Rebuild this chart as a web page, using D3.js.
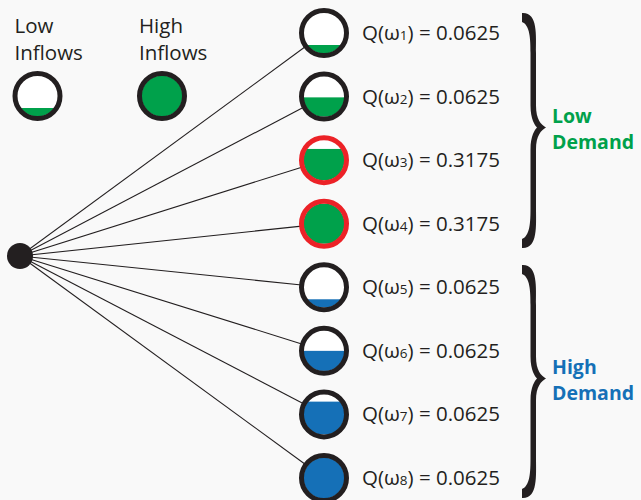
<!DOCTYPE html>
<html><head><meta charset="utf-8">
<script src="https://cdn.jsdelivr.net/npm/d3@7"></script>
<style>html,body{margin:0;padding:0;background:#f9f9f9;}svg{display:block;}</style>
</head><body>
<script>
const scenarios = ["1","2","3","4","5","6","7","8"];
const probabilities = ["0.0625","0.0625","0.3175","0.3175","0.0625","0.0625","0.0625","0.0625"];
const fillLevels = [0.2, 0.48, 0.78, 1.0, 0.2, 0.5, 0.82, 1.0];
const demandLevel = ["Low","Low","Low","Low","High","High","High","High"];
const highlighted = [false,false,true,true,false,false,false,false];
const legendLabels = [["Low","Inflows"],["High","Inflows"]];
const legendLevels = [0.2, 1.0];
const groupLabels = [["Low","Demand"],["High","Demand"]];

const W = 641, H = 500;
const colors = {Low:"#00a14b", High:"#1570b7"};
const FONT = "'Open Sans', sans-serif";
const FS = 20.5;
const svg = d3.select("body").append("svg").attr("width",W).attr("height",H);
svg.append("rect").attr("width",W).attr("height",H).attr("fill","#f9f9f9");

const y = d3.scalePoint().domain(scenarios).range([33, 478]);
const cx = 324, R = 22.5, SW = 5, rIn = R - SW/2;
const root = {x:20, y:256};
const lvl = d3.scaleLinear().domain([0,1]).range([rIn, -rIn]);

const defs = svg.append("defs");

// lines
svg.append("g").selectAll("line").data(scenarios).join("line")
  .attr("x1", root.x).attr("y1", root.y)
  .attr("x2", d => cx - R*Math.cos(Math.atan2(y(d)-root.y, cx-root.x)))
  .attr("y2", d => y(d) - R*Math.sin(Math.atan2(y(d)-root.y, cx-root.x)))
  .attr("stroke","#231f20").attr("stroke-width",1.1);

svg.append("circle").attr("cx",root.x).attr("cy",root.y).attr("r",13).attr("fill","#231f20");

function tank(g, x, yy, level, color, stroke, id){
  defs.append("clipPath").attr("id",id).append("circle").attr("cx",x).attr("cy",yy).attr("r",rIn+0.5);
  g.append("circle").attr("cx",x).attr("cy",yy).attr("r",rIn).attr("fill","#ffffff");
  g.append("rect").attr("clip-path",`url(#${id})`)
    .attr("x",x-R).attr("width",2*R)
    .attr("y",yy+lvl(level)).attr("height",Math.max(0, rIn - lvl(level)))
    .attr("fill",color);
  g.append("circle").attr("cx",x).attr("cy",yy).attr("r",R).attr("fill","none")
    .attr("stroke",stroke).attr("stroke-width",SW);
}

const nodes = svg.append("g");
scenarios.forEach((s,i)=>{
  tank(nodes, cx, y(s), fillLevels[i], colors[demandLevel[i]], highlighted[i] ? "#ec2227" : "#231f20", "c"+i);
  const t = nodes.append("text").attr("x",362).attr("y",y(s)+7)
    .attr("font-family",FONT).attr("font-size",FS).attr("fill","#231f20");
  t.append("tspan").text("Q(ω");
  t.append("tspan").attr("font-size",13.5).text(s);
  t.append("tspan").text(") = " + probabilities[i]);
});

// legend
const legX = [37.5, 162];
legendLabels.forEach((lab,i)=>{
  const t = svg.append("text").attr("font-family",FONT).attr("font-size",FS).attr("fill","#231f20");
  t.append("tspan").attr("x",legX[i]-23).attr("y",33).text(lab[0]);
  t.append("tspan").attr("x",legX[i]-23).attr("y",60).text(lab[1]);
  tank(svg, legX[i], 96, legendLevels[i], colors.Low, "#231f20", "l"+i);
});

// braces
function brace(yTop, yBot){
  const xL = 522, xV = 533, xT = 546, yMid = (yTop+yBot)/2 - 3;
  const p = d3.path();
  p.moveTo(xL, yTop);
  p.bezierCurveTo(xV+5, yTop-1, xV+3, yTop+22, xV+3, yTop+40);
  p.lineTo(xV+3, yMid-22);
  p.bezierCurveTo(xV+3, yMid-8, xT-5, yMid-3, xT, yMid);
  p.bezierCurveTo(xT-5, yMid+3, xV+3, yMid+8, xV+3, yMid+22);
  p.lineTo(xV+3, yBot-40);
  p.bezierCurveTo(xV+3, yBot-22, xV+5, yBot+1, xL, yBot);
  p.lineTo(xL, yBot-9);
  p.bezierCurveTo(xV-3, yBot-12, xV-2.5, yBot-26, xV-2.5, yBot-40);
  p.lineTo(xV-2.5, yMid+22);
  p.bezierCurveTo(xV-2.5, yMid+8, xV+2, yMid+2, xT-9, yMid);
  p.bezierCurveTo(xV+2, yMid-2, xV-2.5, yMid-8, xV-2.5, yMid-22);
  p.lineTo(xV-2.5, yTop+40);
  p.bezierCurveTo(xV-2.5, yTop+26, xV-3, yTop+12, xL, yTop+9);
  p.closePath();
  svg.append("path").attr("d",p.toString()).attr("fill","#231f20");
  return yMid;
}
const braceSpans = [[13,248],[265,498]];
braceSpans.forEach((sp,i)=>{
  const ym = brace(sp[0], sp[1]);
  const col = i===0 ? colors.Low : colors.High;
  [0,1].forEach(k=>{
    svg.append("text").attr("font-family",FONT).attr("font-size",19.5)
      .attr("font-weight","bold").attr("fill",col)
      .attr("x",552).attr("y", k===0 ? ym-5 : ym+21.5)
      .text(groupLabels[i][k]);
  });
});
</script>
</body></html>
